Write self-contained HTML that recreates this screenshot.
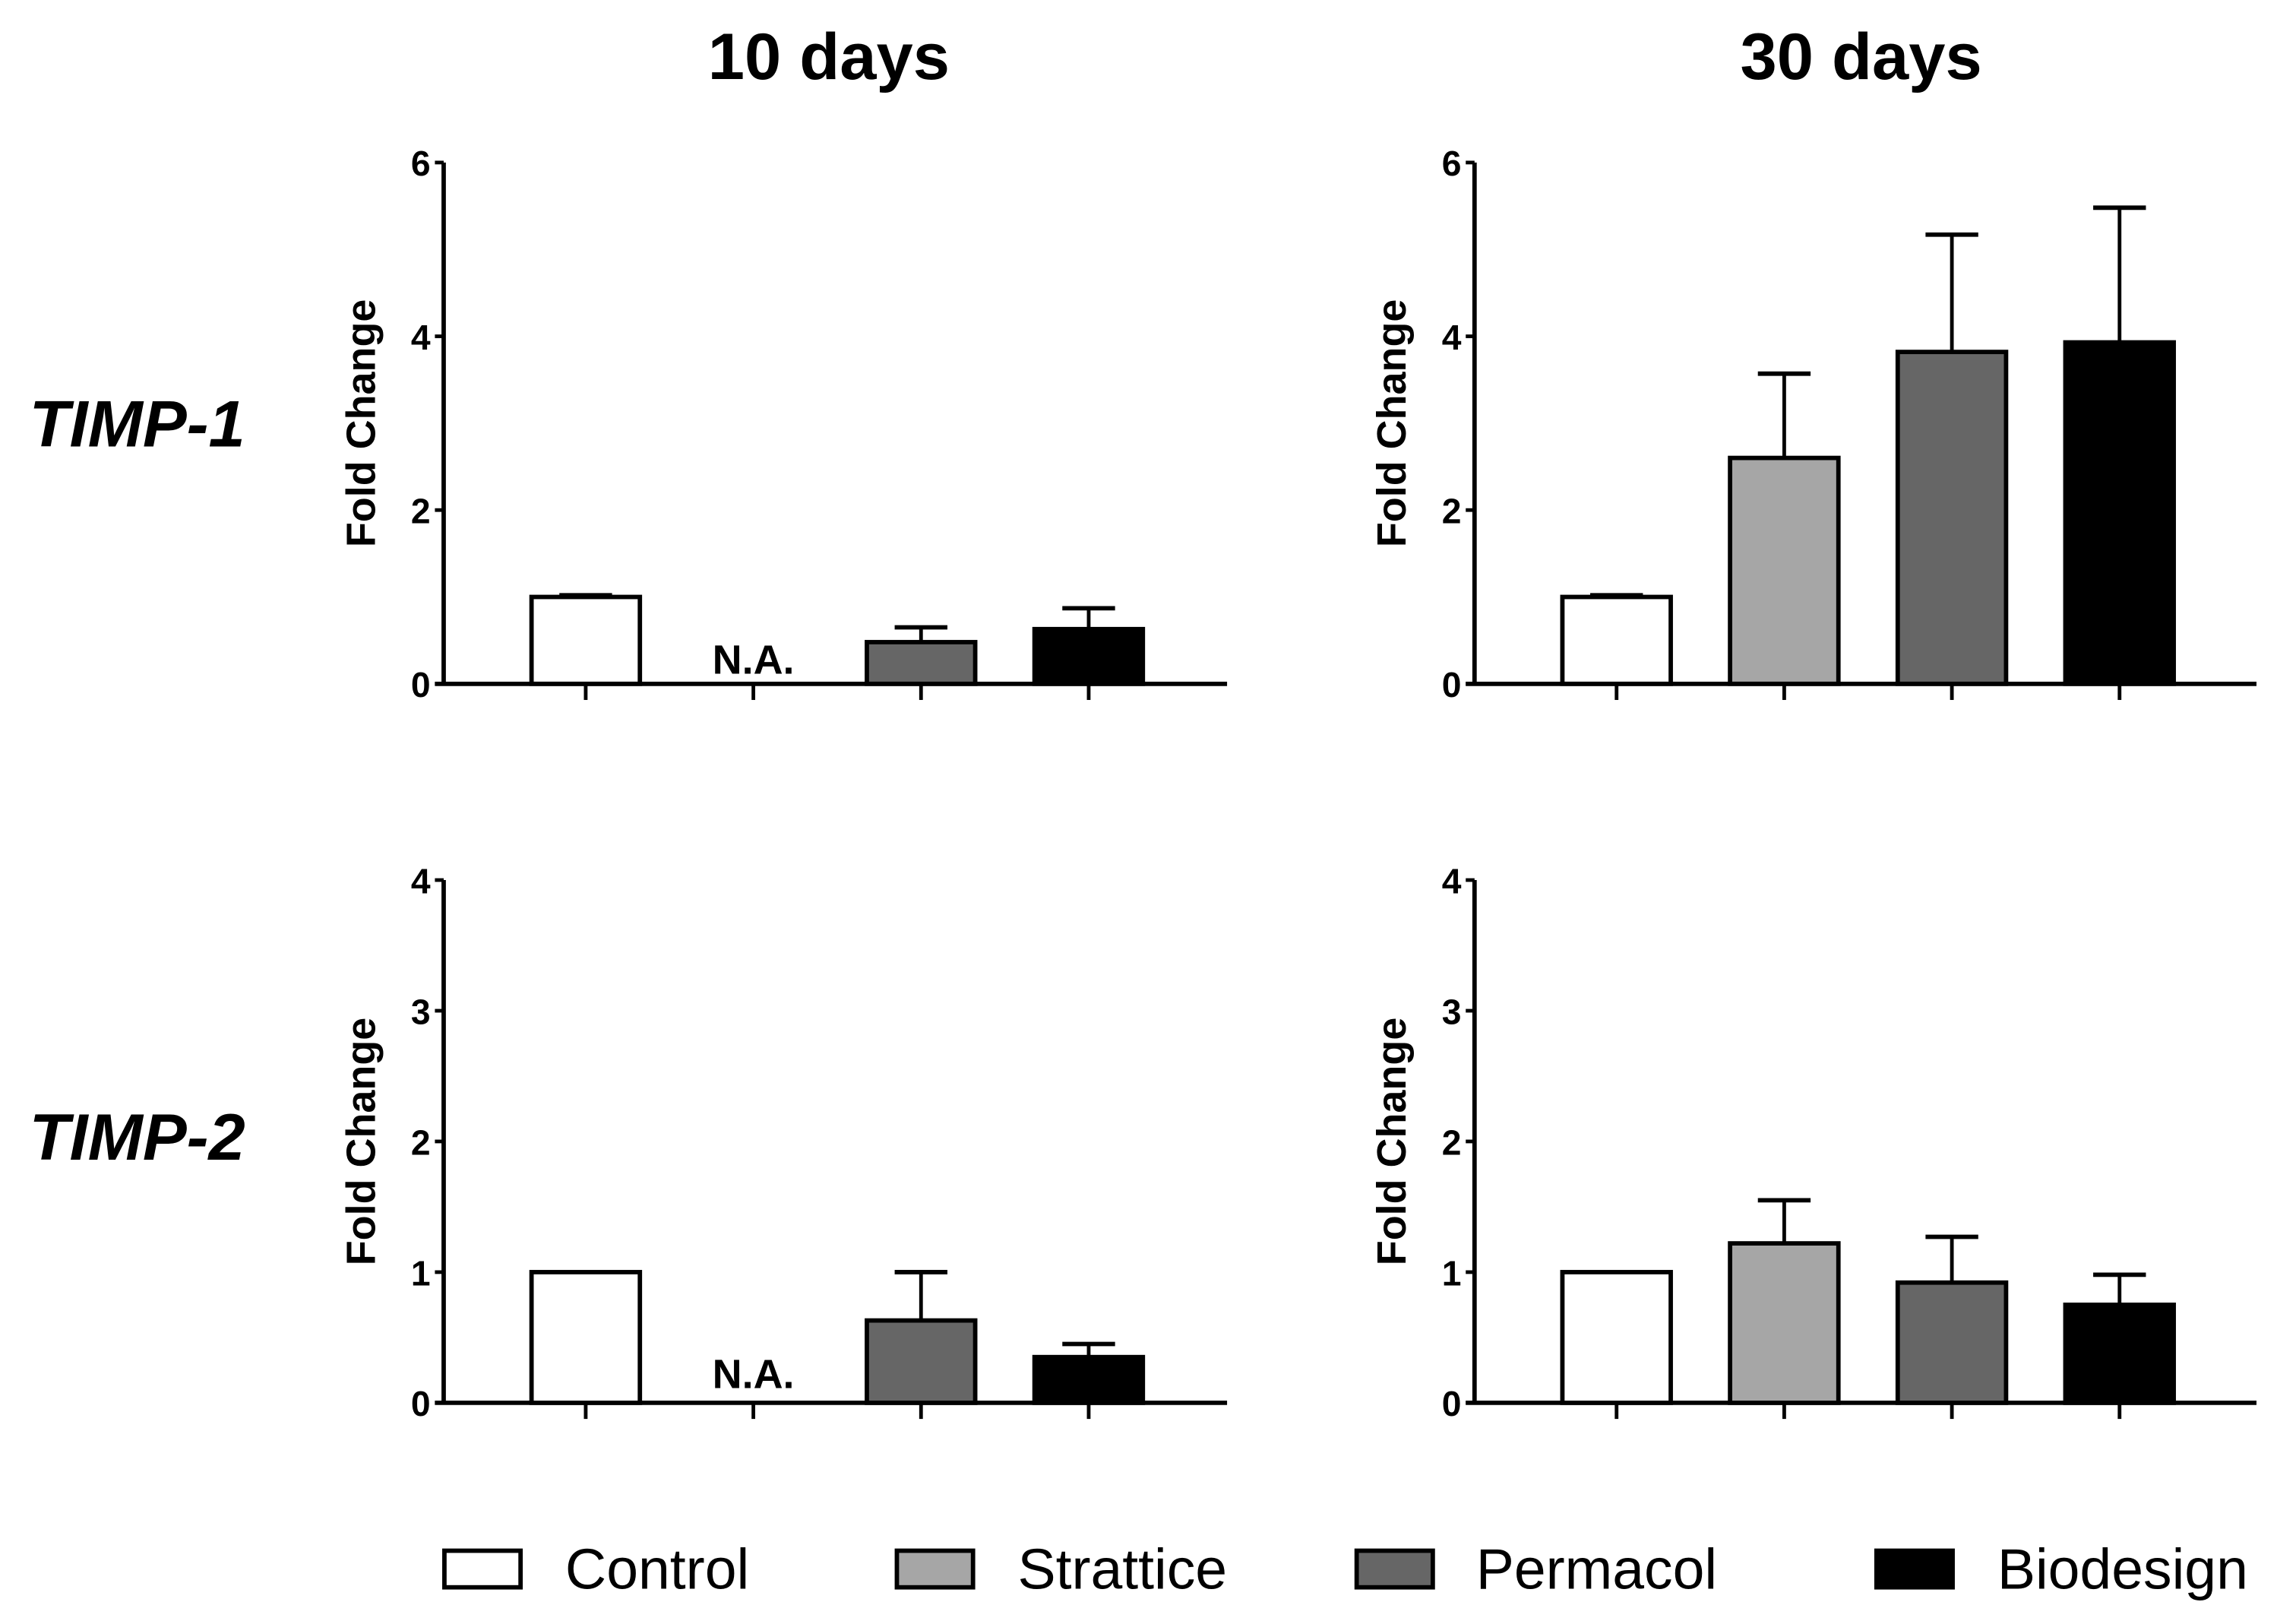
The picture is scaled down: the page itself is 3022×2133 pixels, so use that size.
<!DOCTYPE html>
<html><head><meta charset="utf-8"><style>
html,body{margin:0;padding:0;background:#fff;}
svg{display:block;font-family:"Liberation Sans",Arial,sans-serif;}
</style></head><body>
<svg id="chart" width="3022" height="2133" viewBox="0 0 1568 1107" preserveAspectRatio="none" xmlns="http://www.w3.org/2000/svg">
<rect width="1568" height="1107" fill="#fff"/>
<text x="566" y="54" font-size="45" font-weight="bold" text-anchor="middle">10 days</text>
<text x="1271" y="54" font-size="45" font-weight="bold" text-anchor="middle">30 days</text>
<text x="20" y="305" font-size="45" font-weight="bold" font-style="italic">TIMP-1</text>
<text x="20" y="792" font-size="45" font-weight="bold" font-style="italic">TIMP-2</text>
<g id="panels"></g>
<g id="legend"></g>
</svg>
<script>
const categories = ["Control","Strattice","Permacol","Biodesign"];
const fills = ["#ffffff","#a6a6a6","#666666","#000000"];
const timp1Day10 = [1.0, null, 0.48, 0.63];
const timp1Day10Err = [0.02, null, 0.17, 0.24];
const timp1Day30 = [1.0, 2.6, 3.82, 3.93];
const timp1Day30Err = [0.02, 0.97, 1.35, 1.55];
const timp2Day10 = [1.0, null, 0.63, 0.35];
const timp2Day10Err = [0, null, 0.37, 0.10];
const timp2Day30 = [1.0, 1.22, 0.92, 0.75];
const timp2Day30Err = [0, 0.33, 0.35, 0.23];
const ticks1 = [0,2,4,6];
const ticks2 = [0,1,2,3,4];

const NS = "http://www.w3.org/2000/svg";
function mk(tag, attrs, parent){const e=document.createElementNS(NS,tag);for(const k in attrs)e.setAttribute(k,attrs[k]);parent.appendChild(e);return e;}
const panelsG = document.getElementById('panels');

function panel(name, axX, axEnd, yTop, yZero, yMax, ticks, vals, errs, naY){
  const g = mk('g',{},panelsG);
  
  
  const ys = v => yZero - (v / yMax) * (yZero - yTop);
  const step = 114.5, first = axX + 97, bw = 74;
  const xs = i => first + i * step;
  vals.forEach((v,i)=>{
    if (v === null) {
      const t = mk('text',{x:xs(i),y:naY,'font-size':28,'font-weight':'bold','text-anchor':'middle'},g);
      t.textContent = 'N.A.';
      
      
      return;
    }
    const e = errs[i];
    if (e > 0) {
      const l = mk('line',{x1:xs(i),x2:xs(i),y1:ys(v),y2:ys(v+e),stroke:'#000','stroke-width':2.5},g);
      
      
      const c = mk('line',{x1:xs(i)-18,x2:xs(i)+18,y1:ys(v+e),y2:ys(v+e),stroke:'#000','stroke-width':3},g);
      
      
    }
    const r = mk('rect',{x:xs(i)-bw/2,y:ys(v),width:bw,height:yZero-ys(v),fill:fills[i],stroke:'#000','stroke-width':3},g);
    
    
  });
  const ya = mk('line',{x1:axX,x2:axX,y1:yTop,y2:yZero,stroke:'#000','stroke-width':3},g);
  
  
  const xa = mk('line',{x1:axX-6,x2:axEnd,y1:yZero,y2:yZero,stroke:'#000','stroke-width':3},g);
  
  
  ticks.forEach(t=>{
    mk('line',{x1:axX-6,x2:axX,y1:ys(t),y2:ys(t),stroke:'#000','stroke-width':2.5},g);
    const tl = mk('text',{x:axX-9,y:ys(t)+9,'font-size':24,'font-weight':'bold','text-anchor':'end'},g);
    tl.textContent = t;
    
    
  });
  categories.forEach((c,i)=>{
    const tk = mk('line',{x1:xs(i),x2:xs(i),y1:yZero,y2:yZero+11,stroke:'#000','stroke-width':2.5},g);
    
    
  });
  const cy = (yTop + yZero) / 2 + 0;
  const yl = mk('text',{x:axX-47,y:cy,'font-size':28,'font-weight':'bold','text-anchor':'middle',transform:`rotate(-90 ${axX-47} ${cy})`},g);
  yl.textContent = 'Fold Change';
  
  
}
panel('panel-timp1-10-days', 303, 838, 111, 467, 6, ticks1, timp1Day10, timp1Day10Err, 460);
panel('panel-timp1-30-days', 1007, 1541, 111, 467, 6, ticks1, timp1Day30, timp1Day30Err, 460);
panel('panel-timp2-10-days', 303, 838, 601, 958, 4, ticks2, timp2Day10, timp2Day10Err, 948);
panel('panel-timp2-30-days', 1007, 1541, 601, 958, 4, ticks2, timp2Day30, timp2Day30Err, 948);

const lg = document.getElementById('legend');


const boxX = [302, 611, 925, 1280];
const textX = [386, 695, 1008, 1364];
categories.forEach((c,i)=>{
  const r = mk('rect',{x:boxX[i]+1.5,y:1059,width:52,height:25,fill:fills[i],stroke:'#000','stroke-width':3},lg);
  
  
  const t = mk('text',{x:textX[i],y:1085,'font-size':39},lg);
  t.textContent = c;
  
  
});
</script>
</body></html>
